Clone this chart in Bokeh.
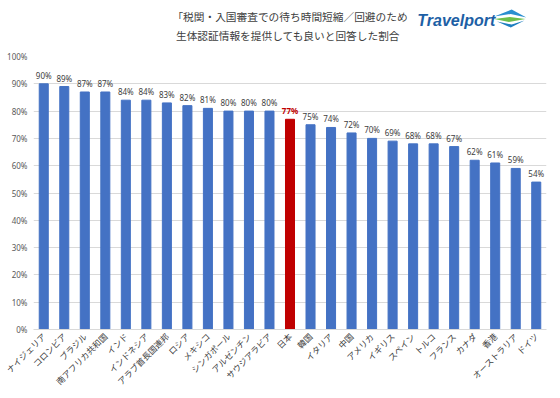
from bokeh.plotting import figure
from bokeh.layouts import column
from bokeh.models import (ColumnDataSource, Range1d, FactorRange, FixedTicker,
                          LabelSet, CustomJSTickFormatter)
from bokeh.core.properties import value
from bokeh.embed import file_html
from bokeh.resources import INLINE
import math

countries = ["ナイジェリア", "コロンビア", "ブラジル", "南アフリカ共和国", "インド", "インドネシア",
             "アラブ首長国連邦", "ロシア", "メキシコ", "シンガポール", "アルゼンチン", "サウジアラビア",
             "日本", "韓国", "イタリア", "中国", "アメリカ", "イギリス", "スペイン", "トルコ",
             "フランス", "カナダ", "香港", "オーストラリア", "ドイツ"]
values = [90, 89, 87, 87, 84, 84, 83, 82, 81, 80, 80, 80, 77, 75, 74, 72, 70, 69, 68, 68, 67, 62, 61, 59, 54]
highlight = "日本"
y_ticks = [0, 10, 20, 30, 40, 50, 60, 70, 80, 90, 100]
title_lines = ["「税関・入国審査での待ち時間短縮／回避のため", "生体認証情報を提供しても良いと回答した割合"]
logo_text = "Travelport"

BLUE = "#4472C4"
RED = "#C00000"
FONT = "Noto Sans CJK JP"

W, H = 560, 398
HH = 48  # header height
BL, BR, BT, BB = 33, 14, 56 - HH, 69

# ---------- header (title + logo), pixel coordinates ----------
hdr = figure(width=W, height=HH, x_range=Range1d(0, W), y_range=Range1d(HH, 0),
             output_backend="svg", toolbar_location=None,
             min_border=0, min_border_left=0, min_border_right=0,
             min_border_top=0, min_border_bottom=0)
hdr.axis.visible = False
hdr.grid.visible = False
hdr.outline_line_color = None
hdr.background_fill_color = "white"
hdr.border_fill_color = "white"

hdr.text(x=[280, 278], y=[16, 34.5], text=title_lines, text_align="center",
         text_baseline="middle", text_font_size="10.7px", text_color="#404040",
         text_font=value(FONT))
hdr.text(x=[419], y=[20], text=[logo_text], text_align="left", text_baseline="middle",
         text_font_size="16px", text_font_style="bold italic", text_color="#1d5fa5",
         text_font=value("Liberation Sans"))
hdr.patches(xs=[[503, 522, 538, 521], [503, 520, 537, 519], [506, 521, 536, 522]],
            ys=[[16, 9, 17, 13.5], [18.5, 16.5, 18.5, 21.5], [21, 27, 20, 24]],
            fill_color=["#2a8fd0", "#6dbf4b", "#1f7fc0"], line_color=None)

# ---------- bar chart ----------
colors = [RED if c == highlight else BLUE for c in countries]
lbl_colors = [RED if c == highlight else "#404040" for c in countries]
lbl_styles = ["bold" if c == highlight else "normal" for c in countries]
src = ColumnDataSource(dict(x=countries, top=values, color=colors,
                            label=[f"{v}%" for v in values],
                            lc=lbl_colors, ls=lbl_styles))

p = figure(width=W, height=H - HH, x_range=FactorRange(*countries), y_range=Range1d(0, 100),
           output_backend="svg", toolbar_location=None,
           min_border_left=BL, min_border_right=BR, min_border_top=BT, min_border_bottom=BB)
p.outline_line_color = None
p.background_fill_color = "white"
p.border_fill_color = "white"

p.vbar(x="x", top="top", width=0.44, color="color", source=src)

labels = LabelSet(x="x", y="top", text="label", source=src, text_align="center",
                  text_baseline="bottom", y_offset=3, text_font_size="8px",
                  text_color="lc", text_font_style="ls", text_font=value("Noto Sans"))
p.add_layout(labels)

p.xgrid.grid_line_color = None
p.ygrid.grid_line_color = "#d9d9d9"
p.yaxis.ticker = FixedTicker(ticks=y_ticks)
p.yaxis.formatter = CustomJSTickFormatter(code="return tick + '%';")
p.yaxis.axis_line_color = None
p.yaxis.major_tick_line_color = None
p.yaxis.minor_tick_line_color = None
p.yaxis.major_tick_out = 0
p.yaxis.major_tick_in = 0
p.yaxis.minor_tick_out = 0
p.yaxis.major_label_text_font_size = "8px"
p.yaxis.major_label_text_color = "#595959"
p.yaxis.major_label_text_font = "Noto Sans"
p.yaxis.major_label_standoff = 6

p.xaxis.axis_line_color = "#d9d9d9"
p.xaxis.major_tick_line_color = None
p.xaxis.minor_tick_line_color = None
p.xaxis.major_tick_out = 0
p.xaxis.major_tick_in = 0
p.xaxis.major_label_orientation = math.pi / 4
p.xaxis.major_label_text_font_size = "8.5px"
p.xaxis.major_label_text_color = "#404040"
p.xaxis.major_label_text_font = FONT
p.xaxis.major_label_standoff = 5

layout = column(hdr, p, spacing=0)
open("out.html", "w").write(file_html(layout, INLINE))
